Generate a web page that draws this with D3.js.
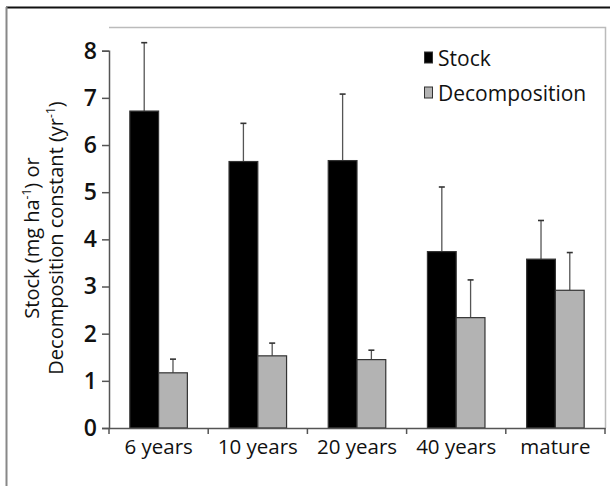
<!DOCTYPE html>
<html>
<head>
<meta charset="utf-8">
<script src="https://cdn.jsdelivr.net/npm/d3@7"></script>
<style>
  html, body { margin: 0; padding: 0; background: #fff; }
  svg { display: block; }
  text { font-family: "Open Sans", Lato, sans-serif; fill: #111; }
</style>
</head>
<body>
<svg id="chart" width="610" height="486"></svg>
<script>
const categories = ["6 years", "10 years", "20 years", "40 years", "mature"];
const seriesNames = ["Stock", "Decomposition"];
const stockValues = [6.72, 5.65, 5.67, 3.74, 3.58];
const stockErrors = [1.45, 0.81, 1.41, 1.37, 0.82];
const decompValues = [1.17, 1.53, 1.45, 2.34, 2.92];
const decompErrors = [0.29, 0.27, 0.20, 0.80, 0.80];
const yTicks = [0, 1, 2, 3, 4, 5, 6, 7, 8];
const colors = ["#000000", "#b3b3b3"];

const svg = d3.select("#chart");
const W = 610, H = 486;
const plot = { left: 109, right: 605, top: 27, bottom: 428 };

// outer frame
svg.append("line").attr("x1", 6).attr("x2", W).attr("y1", 7.5).attr("y2", 7.5)
  .attr("stroke", "#111").attr("stroke-width", 2);
svg.append("line").attr("x1", 6.5).attr("x2", 6.5).attr("y1", 7).attr("y2", H)
  .attr("stroke", "#888").attr("stroke-width", 2);

// plot frame (top/right light)
svg.append("path")
  .attr("d", `M${plot.left},${plot.top + 0.5}H${plot.right + 0.5}V${plot.bottom}`)
  .attr("fill", "none").attr("stroke", "#bbb").attr("stroke-width", 1.5);

const x0 = d3.scaleBand().domain(categories).range([plot.left, plot.right]).paddingInner(0.42).paddingOuter(0.21);
const x1 = d3.scaleBand().domain(seriesNames).range([0, x0.bandwidth()]);
const xOuter = d3.scaleBand().domain(categories).range([plot.left, plot.right]);
const y = d3.scaleLinear().domain([0, 8]).range([plot.bottom, 50.7]);

const data = categories.map((c, i) => ({
  cat: c,
  vals: [
    { s: seriesNames[0], v: stockValues[i], e: stockErrors[i], c: colors[0] },
    { s: seriesNames[1], v: decompValues[i], e: decompErrors[i], c: colors[1] }
  ]
}));

const groups = svg.append("g").selectAll("g").data(data).join("g")
  .attr("transform", d => `translate(${x0(d.cat)},0)`);

// error bars (behind bars)
groups.selectAll("g.err").data(d => d.vals).join("g").attr("class", "err").each(function(d) {
  const g = d3.select(this);
  const cx = x1(d.s) + x1.bandwidth() / 2;
  g.append("line").attr("x1", cx).attr("x2", cx).attr("y1", y(d.v)).attr("y2", y(d.v + d.e))
    .attr("stroke", "#555").attr("stroke-width", 1.3);
  g.append("line").attr("x1", cx - 3).attr("x2", cx + 3).attr("y1", y(d.v + d.e)).attr("y2", y(d.v + d.e))
    .attr("stroke", "#333").attr("stroke-width", 1.6);
});

groups.selectAll("rect").data(d => d.vals).join("rect")
  .attr("x", d => x1(d.s))
  .attr("y", d => y(d.v))
  .attr("width", x1.bandwidth())
  .attr("height", d => y(0) - y(d.v))
  .attr("fill", d => d.c)
  .attr("stroke", "#333")
  .attr("stroke-width", 1.2);

// y axis
const yAxis = svg.append("g").attr("transform", `translate(${plot.left},0)`)
  .call(d3.axisLeft(y).tickValues(yTicks).tickSize(7).tickPadding(5).tickFormat(d3.format("d")));
yAxis.select(".domain").attr("stroke", "#555").attr("stroke-width", 1.5);
yAxis.selectAll(".tick line").attr("stroke", "#555").attr("stroke-width", 1.5);
yAxis.selectAll(".tick text").attr("font-size", 23).attr("font-weight", 600)
  .attr("font-family", "'Open Sans', sans-serif").attr("fill", "#111");

// x axis
const xAxis = svg.append("g").attr("transform", `translate(0,${plot.bottom})`)
  .call(d3.axisBottom(xOuter).tickSize(0).tickPadding(11));
xAxis.select(".domain").attr("stroke", "#555").attr("stroke-width", 1.5);
xAxis.selectAll(".tick text").attr("font-size", 20.5).attr("font-weight", 500)
  .attr("font-family", "'Open Sans', sans-serif").attr("fill", "#111");
// boundary ticks between categories
const bounds = categories.map(c => xOuter(c)).concat([xOuter(categories[categories.length - 1]) + xOuter.bandwidth()]);
svg.append("g").selectAll("line").data(bounds).join("line")
  .attr("x1", d => d).attr("x2", d => d)
  .attr("y1", plot.bottom).attr("y2", plot.bottom + 6)
  .attr("stroke", "#555").attr("stroke-width", 1.5);

// y label
const yl = svg.append("text")
  .attr("transform", `translate(0,238) rotate(-90)`)
  .attr("text-anchor", "middle").attr("font-size", 20).attr("font-weight", 500);
const l1 = yl.append("tspan").attr("x", 0).attr("y", 39);
l1.append("tspan").text("Stock (mg ha");
l1.append("tspan").attr("font-size", 12).attr("dy", -8).text("-1");
l1.append("tspan").attr("dy", 8).text(") or");
const l2 = yl.append("tspan").attr("x", 0).attr("y", 63);
l2.append("tspan").text("Decomposition constant (yr");
l2.append("tspan").attr("font-size", 12).attr("dy", -8).text("-1");
l2.append("tspan").attr("dy", 8).text(")");

// legend
const legend = svg.append("g");
const legendY = [58, 93];
seriesNames.forEach((s, i) => {
  legend.append("rect").attr("x", 424.5).attr("y", legendY[i] - 6).attr("width", 8).attr("height", 11)
    .attr("fill", colors[i]).attr("stroke", "#333").attr("stroke-width", 1);
  legend.append("text").attr("x", 438).attr("y", legendY[i] + 8)
    .attr("font-size", 21).attr("font-weight", 500).text(s);
});
</script>
</body>
</html>
